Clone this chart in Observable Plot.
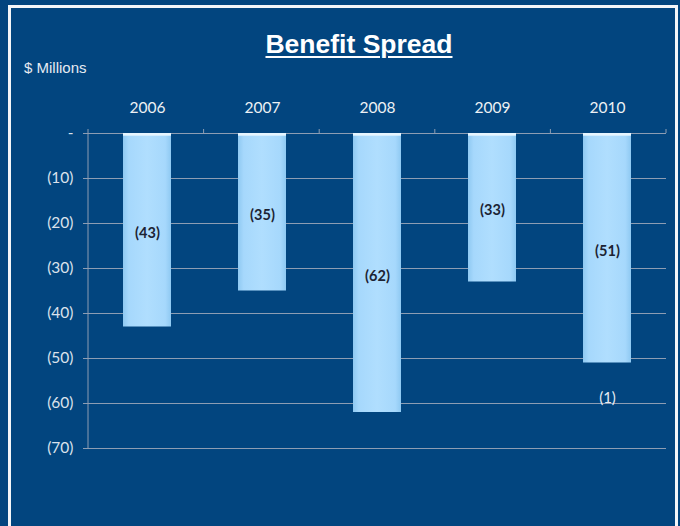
<!DOCTYPE html>
<html><head><meta charset="utf-8">
<script src="https://cdn.jsdelivr.net/npm/d3@7"></script>
<script src="https://cdn.jsdelivr.net/npm/@observablehq/plot@0.6"></script>
<style>
html,body{margin:0;padding:0;background:#02457f;}
#wrap{position:relative;width:680px;height:526px;overflow:hidden;background:#02457f;font-family:"Liberation Sans",Arial,sans-serif;}
#frame{position:absolute;left:8px;top:5px;width:670px;height:560px;border:3px solid #f4f6f9;box-sizing:border-box;}
#title{position:absolute;left:0;width:718px;top:29px;text-align:center;color:#fff;font-weight:bold;font-size:26.5px;text-decoration:underline;text-decoration-thickness:1.5px;text-underline-offset:3px;}
#unit{position:absolute;left:24px;top:59px;color:#e6ebf2;font-size:15px;}
#chart{position:absolute;left:0;top:90px;}
</style></head>
<body>
<div id="wrap">
  <div id="frame"></div>
  <div id="title">Benefit Spread</div>
  <div id="unit">$ Millions</div>
  <div id="chart"></div>
</div>
<svg width="0" height="0" style="position:absolute">
  <defs>
    <linearGradient id="barGrad" x1="0" x2="1" y1="0" y2="0">
      <stop offset="0" stop-color="#8fc9f2"/>
      <stop offset="0.12" stop-color="#a6d8fc"/>
      <stop offset="0.5" stop-color="#b0defe"/>
      <stop offset="0.88" stop-color="#a6d8fc"/>
      <stop offset="1" stop-color="#8fc9f2"/>
    </linearGradient>
    <filter id="shadow" x="-10%" y="-5%" width="120%" height="115%">
      <feDropShadow dx="0" dy="2" stdDeviation="1" flood-color="#0a1a30" flood-opacity="0.7"/>
    </filter>
  </defs>
</svg>
<script>
const years = ["2006", "2007", "2008", "2009", "2010"];
const spread = [-43, -35, -62, -33, -51];
const extra = [null, null, null, null, -1];
const yTicks = [0, -10, -20, -30, -40, -50, -60, -70];

const data = years.map((y, i) => ({year: y, value: spread[i], extra: extra[i]}));
const fmt = v => v === 0 ? "-" : `(${Math.abs(v)})`;

const boundaryTicks = (index, scales, values, dims) => {
  const g = d3.create("svg:g");
  const n = years.length;
  const w = (dims.width - dims.marginLeft - dims.marginRight) / n;
  for (let i = 0; i <= n; i++) {
    const x = dims.marginLeft + i * w;
    g.append("line").attr("x1", x).attr("x2", x)
      .attr("y1", scales.y(0) - 4).attr("y2", scales.y(0))
      .attr("stroke", "#8d9db3").attr("stroke-width", 1);
  }
  g.append("line").attr("x1", dims.marginLeft).attr("x2", dims.marginLeft)
    .attr("y1", scales.y(0)).attr("y2", scales.y(-70))
    .attr("stroke", "#8d9db3").attr("stroke-width", 1);
  return g.node();
};

const chart = Plot.plot({
  width: 680,
  height: 436,
  marginTop: 43,
  marginLeft: 88,
  marginRight: 14,
  marginBottom: 78,
  style: {background: "transparent", color: "#dfe5ee", fontFamily: "Lato, 'Open Sans', sans-serif", overflow: "visible"},
  x: {domain: years, paddingInner: 0.585, paddingOuter: 0.2925, label: null},
  y: {domain: [-70, 0], label: null},
  marks: [
    Plot.ruleY(yTicks, {stroke: "#8d9db3", strokeWidth: 1}),
    Plot.axisY({ticks: yTicks, tickFormat: fmt, tickSize: 5, tickPadding: 10, stroke: "#8d9db3", fill: "#dbe2ec", fontSize: 15.5, label: null}),
    Plot.axisX({anchor: "top", tickSize: 0, tickPadding: 21, fill: "#eef1f5", fontSize: 15.5, label: null}),
    boundaryTicks,
    Plot.barY(data, {x: "year", y: "value", fill: "url(#barGrad)", style: "filter:url(#shadow)"}),
    Plot.barY(data, {x: "year", y1: 0, y2: -0.6, fill: "#e6f5ff"}),
    Plot.text(data, {x: "year", y: d => d.value / 2, text: d => fmt(d.value), fill: "#1c2333", fontWeight: "bold", fontSize: 14.5, dy: 3}),
    Plot.text(data.filter(d => d.extra != null), {x: "year", y: d => d.value + d.extra, text: d => fmt(d.extra), fill: "#e8edf4", fontSize: 15, dy: 31})
  ]
});
document.getElementById("chart").appendChild(chart);
</script>
</body></html>
